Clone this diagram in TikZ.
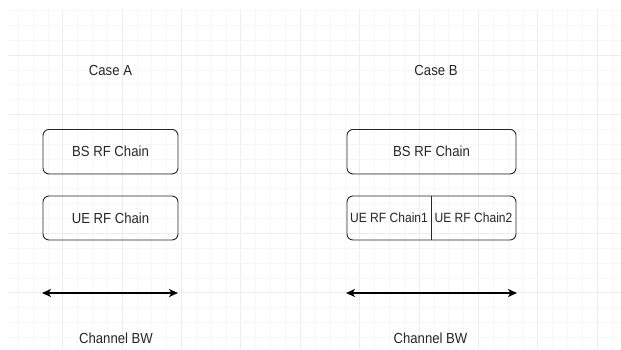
\documentclass[tikz,border=0pt]{standalone}
\usepackage{fontspec}
\setmainfont{Liberation Sans}
\newfontfamily\labelfont[FakeStretch=0.9]{Liberation Sans}
\usetikzlibrary{arrows.meta}

\tikzset{
  gridminor/.style={draw=black!3, line width=0.5pt},
  gridmajor/.style={draw=black!7, line width=0.7pt},
  chainbox/.style={draw=black!85, line width=0.9pt, rounded corners=6pt,
    inner sep=0pt, font=\labelfont\fontsize{14.6}{17}\selectfont, text=black!85},
  cell/.style={inner sep=0pt, font=\labelfont\fontsize{13.4}{16}\selectfont, text=black!85},
  caption/.style={inner sep=0pt, font=\labelfont\fontsize{14.6}{17}\selectfont, text=black!85},
  bwarrow/.style={line width=1.8pt, {Stealth[length=9pt,width=8pt,inset=2.5pt]}-{Stealth[length=9pt,width=8pt,inset=2.5pt]}}
}

\begin{document}
\begin{tikzpicture}[x=1pt,y=-1pt]
  % page and background grid
  \fill[white] (0,0) rectangle (621,349);
  \useasboundingbox (0,0) rectangle (621,349);
  \begin{scope}
    \clip (8,9) rectangle (621,349);
    \foreach \k in {-8,...,34} {
      \pgfmathsetmacro{\gx}{122+14.85*\k}
      \pgfmathtruncatemacro{\m}{mod(\k+40,4)}
      \ifnum\m=0
        \draw[gridmajor] (\gx,0) -- (\gx,349);
      \else
        \draw[gridminor] (\gx,0) -- (\gx,349);
      \fi
    }
    \foreach \k in {-4,...,20} {
      \pgfmathsetmacro{\gy}{55+14.85*\k}
      \pgfmathtruncatemacro{\m}{mod(\k+40,4)}
      \ifnum\m=0
        \draw[gridmajor] (0,\gy) -- (621,\gy);
      \else
        \draw[gridminor] (0,\gy) -- (621,\gy);
      \fi
    }
  \end{scope}

  % headings
  \node[caption] (caseA) at (110.5,70) {Case A};
  \node[caption] (caseB) at (436,70) {Case B};

  % Case A chains
  \node[chainbox, minimum width=135pt, minimum height=44.5pt] (bsA) at (110.5,151.7) {BS RF Chain};
  \node[chainbox, minimum width=135pt, minimum height=44pt] (ueA) at (110.5,218) {\raisebox{-2.5pt}{UE RF Chain}};

  % Case B chains
  \node[chainbox, minimum width=169pt, minimum height=44.5pt] (bsB) at (431.5,151.7) {BS RF Chain};
  \node[chainbox, minimum width=169pt, minimum height=44pt] (ueB) at (431.5,218) {};
  \node[cell, minimum width=84pt, minimum height=44pt] (ue1) at (389,218) {\raisebox{-2.5pt}{UE RF Chain1}};
  \node[cell, minimum width=85pt, minimum height=44pt] (ue2) at (473.5,218) {\raisebox{-2.5pt}{UE RF Chain2}};
  \draw[black!85, line width=0.9pt] (ue1.north east) -- (ue1.south east);

  % channel bandwidth arrows
  \coordinate (aL) at (42,293);
  \coordinate (aR) at (178,293);
  \coordinate (bL) at (346,293);
  \coordinate (bR) at (517,293);
  \draw[bwarrow] (aL) -- (aR);
  \draw[bwarrow] (bL) -- (bR);

  \node[caption] (bwA) at (116,338) {Channel BW};
  \node[caption] (bwB) at (430.5,338) {Channel BW};
\end{tikzpicture}
\end{document}
